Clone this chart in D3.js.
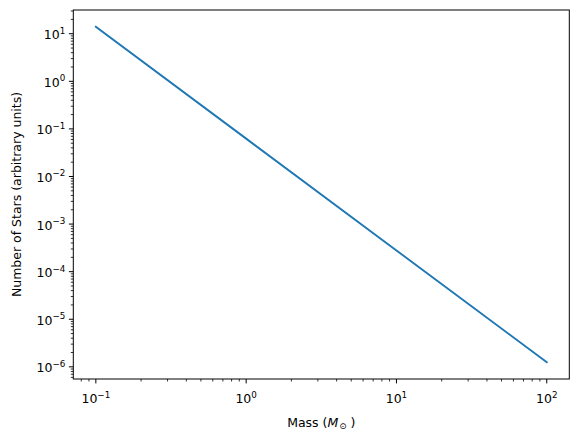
<!DOCTYPE html>
<html>
<head>
<meta charset="utf-8">
<script src="https://cdn.jsdelivr.net/npm/d3@7"></script>
<style>
  body { margin: 0; background: #fff; }
  svg { font-family: "DejaVu Sans", sans-serif; }
</style>
</head>
<body>
<div id="chart"></div>
<script>
// Salpeter-like IMF (straight line on log-log)
const masses = [0.1, 1, 10, 100];
const counts = [14.0, 0.0625, 2.79e-4, 1.25e-6];
const xTickExps = [-1, 0, 1, 2];
const yTickExps = [1, 0, -1, -2, -3, -4, -5, -6];

const width = 578;
const height = 440;
const margin = { top: 10, right: 8.7, bottom: 61, left: 73.3 };
const fontSize = 12.5;

const svg = d3.select("#chart").append("svg")
    .attr("width", width)
    .attr("height", height);

// matplotlib style 5% padding in log space
const lx = d3.extent(masses).map(Math.log10);
const ly = d3.extent(counts).map(Math.log10);
const px = (lx[1] - lx[0]) * 0.05;
const py = (ly[1] - ly[0]) * 0.05;

const x = d3.scaleLog()
    .domain([Math.pow(10, lx[0] - px), Math.pow(10, lx[1] + px)])
    .range([margin.left, width - margin.right]);

const y = d3.scaleLog()
    .domain([Math.pow(10, ly[0] - py), Math.pow(10, ly[1] + py)])
    .range([height - margin.bottom, margin.top]);

function minorTicks(scale) {
    const [a, b] = scale.domain();
    const out = [];
    for (let e = Math.floor(Math.log10(a)); e <= Math.ceil(Math.log10(b)); e++) {
        for (let m = 2; m <= 9; m++) {
            const v = m * Math.pow(10, e);
            if (v >= a && v <= b) out.push(v);
        }
    }
    return out;
}

const majorLen = 4.4, minorLen = 2.5;

// minor ticks
svg.append("g").selectAll("line")
    .data(minorTicks(x))
    .join("line")
    .attr("x1", d => x(d)).attr("x2", d => x(d))
    .attr("y1", height - margin.bottom).attr("y2", height - margin.bottom + minorLen)
    .attr("stroke", "#000").attr("stroke-width", 0.8);

svg.append("g").selectAll("line")
    .data(minorTicks(y))
    .join("line")
    .attr("y1", d => y(d)).attr("y2", d => y(d))
    .attr("x1", margin.left).attr("x2", margin.left - minorLen)
    .attr("stroke", "#000").attr("stroke-width", 0.8);

// major ticks + labels
const xg = svg.append("g").selectAll("g")
    .data(xTickExps)
    .join("g")
    .attr("transform", d => `translate(${x(Math.pow(10, d))},${height - margin.bottom})`);
xg.append("line").attr("y2", majorLen).attr("stroke", "#000").attr("stroke-width", 1);
const xt = xg.append("text")
    .attr("y", 24)
    .attr("text-anchor", "middle")
    .style("font-size", fontSize + "px");
xt.append("tspan").text("10");
xt.append("tspan")
    .attr("dy", -5.5)
    .style("font-size", (fontSize * 0.7) + "px")
    .text(d => d < 0 ? "\u2212" + (-d) : d);

const yg = svg.append("g").selectAll("g")
    .data(yTickExps)
    .join("g")
    .attr("transform", d => `translate(${margin.left},${y(Math.pow(10, d))})`);
yg.append("line").attr("x2", -majorLen).attr("stroke", "#000").attr("stroke-width", 1);
const yt = yg.append("text")
    .attr("x", -8)
    .attr("y", 5.5)
    .attr("text-anchor", "end")
    .style("font-size", fontSize + "px");
yt.append("tspan").text("10");
yt.append("tspan")
    .attr("dy", -5.5)
    .style("font-size", (fontSize * 0.7) + "px")
    .text(d => d < 0 ? "\u2212" + (-d) : d);

// data line
const line = d3.line()
    .x((d, i) => x(masses[i]))
    .y(d => y(d));

svg.append("path")
    .datum(counts)
    .attr("fill", "none")
    .attr("stroke", "#1f77b4")
    .attr("stroke-width", 1.9)
    .attr("stroke-linecap", "square")
    .attr("d", line);

// frame
svg.append("rect")
    .attr("x", margin.left)
    .attr("y", margin.top)
    .attr("width", width - margin.left - margin.right)
    .attr("height", height - margin.top - margin.bottom)
    .attr("fill", "none")
    .attr("stroke", "#000")
    .attr("stroke-width", 1);

// axis labels
const xl = svg.append("text")
    .attr("x", (margin.left + width - margin.right) / 2)
    .attr("y", 426.5)
    .attr("text-anchor", "middle")
    .style("font-size", fontSize + "px");
xl.append("tspan").text("Mass (");
xl.append("tspan").style("font-style", "italic").text("M");
xl.append("tspan")
    .attr("dy", 2.5)
    .attr("dx", 1)
    .style("font-size", (fontSize * 0.7) + "px")
    .text("\u2299");
xl.append("tspan").attr("dy", -2.5).text(" )");

svg.append("text")
    .attr("transform", `translate(21,${(margin.top + height - margin.bottom) / 2}) rotate(-90)`)
    .attr("text-anchor", "middle")
    .style("font-size", fontSize + "px")
    .text("Number of Stars (arbitrary units)");
</script>
</body>
</html>
